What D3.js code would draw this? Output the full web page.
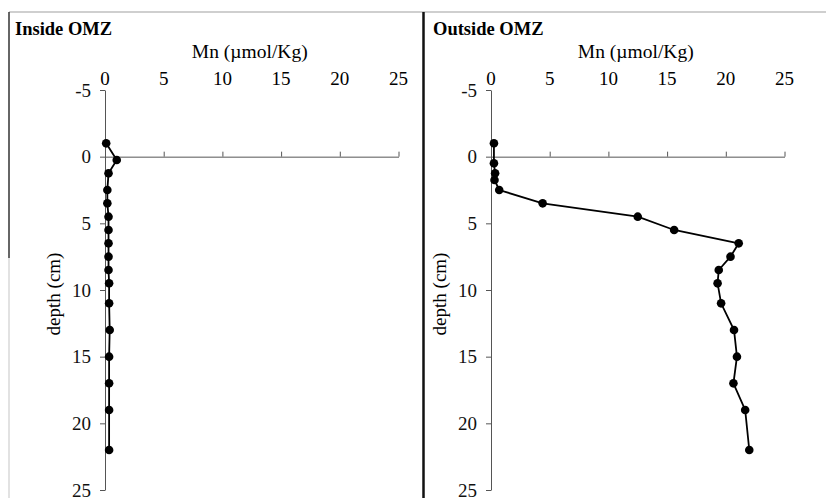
<!DOCTYPE html>
<html>
<head>
<meta charset="utf-8">
<script src="https://cdn.jsdelivr.net/npm/d3@7"></script>
<style>
  body { margin: 0; background: #fff; }
  svg { font-family: "Liberation Serif", "Times New Roman", serif; }
</style>
</head>
<body>
<div id="chart"></div>
<script>
// depth of each sample (cm)
var depthInside  = [-1, 0.25, 1.25, 2.5, 3.5, 4.5, 5.5, 6.5, 7.5, 8.5, 9.5, 11, 13, 15, 17, 19, 22];
var mnInside     = [0.1, 1.0, 0.3, 0.2, 0.2, 0.3, 0.3, 0.3, 0.3, 0.3, 0.35, 0.35, 0.4, 0.35, 0.35, 0.35, 0.35];

var depthOutside = [-1, 0.5, 1.25, 1.75, 2.5, 3.5, 4.5, 5.5, 6.5, 7.5, 8.5, 9.5, 11, 13, 15, 17, 19, 22];
var mnOutside    = [0.25, 0.25, 0.35, 0.3, 0.7, 4.4, 12.5, 15.6, 21.1, 20.4, 19.4, 19.3, 19.6, 20.7, 20.95, 20.65, 21.65, 22.0];

var xTicks = [0, 5, 10, 15, 20, 25];
var yTicks = [-5, 0, 5, 10, 15, 20, 25];

var panels = [
  { title: "Inside OMZ",  left: 105, depth: depthInside,  mn: mnInside,  titleX: 15 },
  { title: "Outside OMZ", left: 491, depth: depthOutside, mn: mnOutside, titleX: 433 }
];

var W = 826, H = 498;
var svg = d3.select("#chart").append("svg")
  .attr("width", W)
  .attr("height", H);

// frame lines
svg.append("line").attr("x1", 9).attr("x2", W).attr("y1", 12).attr("y2", 12)
  .attr("stroke", "#cfcfcf").attr("stroke-width", 2);
svg.append("line").attr("x1", 9).attr("x2", 9).attr("y1", 12).attr("y2", 258)
  .attr("stroke", "#333").attr("stroke-width", 1.5);
svg.append("line").attr("x1", 9).attr("x2", 9).attr("y1", 258).attr("y2", H)
  .attr("stroke", "#d8d8d8").attr("stroke-width", 1.5);
svg.append("line").attr("x1", 423.5).attr("x2", 423.5).attr("y1", 12).attr("y2", H)
  .attr("stroke", "#111").attr("stroke-width", 2.5);

var y = d3.scaleLinear().domain([-5, 25]).range([90, 490]);

panels.forEach(function(p) {
  var x = d3.scaleLinear().domain([0, 25]).range([p.left, p.left + 293.5]);
  var g = svg.append("g");

  g.append("text")
    .attr("x", p.titleX)
    .attr("y", 35)
    .attr("font-size", "18.5px")
    .attr("font-weight", "bold")
    .text(p.title);

  g.append("text")
    .attr("x", x(12.5) - 2)
    .attr("y", 58)
    .attr("font-size", "19.5px")
    .attr("text-anchor", "middle")
    .text("Mn (\u00b5mol/Kg)");

  // x tick labels on top
  g.selectAll(".xl").data(xTicks).enter().append("text")
    .attr("x", function(d) { return x(d); })
    .attr("y", 85)
    .attr("font-size", "19px")
    .attr("text-anchor", "middle")
    .text(function(d) { return d; });

  // x axis crossing at depth 0, ticks pointing up
  var xAxis = g.append("g")
    .attr("transform", "translate(0," + y(0) + ")")
    .call(d3.axisTop(x).tickValues(xTicks).tickSize(5).tickSizeOuter(0).tickFormat(""));
  xAxis.select(".domain").attr("stroke", "#555");
  xAxis.selectAll(".tick line").attr("stroke", "#555");

  // y axis
  var yAxis = g.append("g")
    .attr("transform", "translate(" + p.left + ",0)")
    .call(d3.axisLeft(y).tickValues(yTicks).tickSize(5).tickSizeOuter(0).tickPadding(9)
      .tickFormat(function(d) { return String(d); }));
  yAxis.select(".domain").attr("stroke", "#555");
  yAxis.selectAll(".tick line").attr("stroke", "#555");
  yAxis.selectAll(".tick text")
    .attr("font-size", "19px")
    .attr("font-family", "Liberation Serif, serif")
    .attr("fill", "#111");

  g.append("text")
    .attr("transform", "translate(" + (p.left - 45) + "," + y(10.3) + ") rotate(-90)")
    .attr("font-size", "19px")
    .attr("text-anchor", "middle")
    .text("depth (cm)");

  var pts = p.depth.map(function(d, i) { return { d: d, v: p.mn[i] }; });

  var line = d3.line()
    .x(function(d) { return x(d.v); })
    .y(function(d) { return y(d.d); });

  g.append("path")
    .datum(pts)
    .attr("fill", "none")
    .attr("stroke", "#000")
    .attr("stroke-width", 1.8)
    .attr("d", line);

  g.selectAll("circle").data(pts).enter().append("circle")
    .attr("cx", function(d) { return x(d.v); })
    .attr("cy", function(d) { return y(d.d); })
    .attr("r", 4.3)
    .attr("fill", "#000");
});
</script>
</body>
</html>
